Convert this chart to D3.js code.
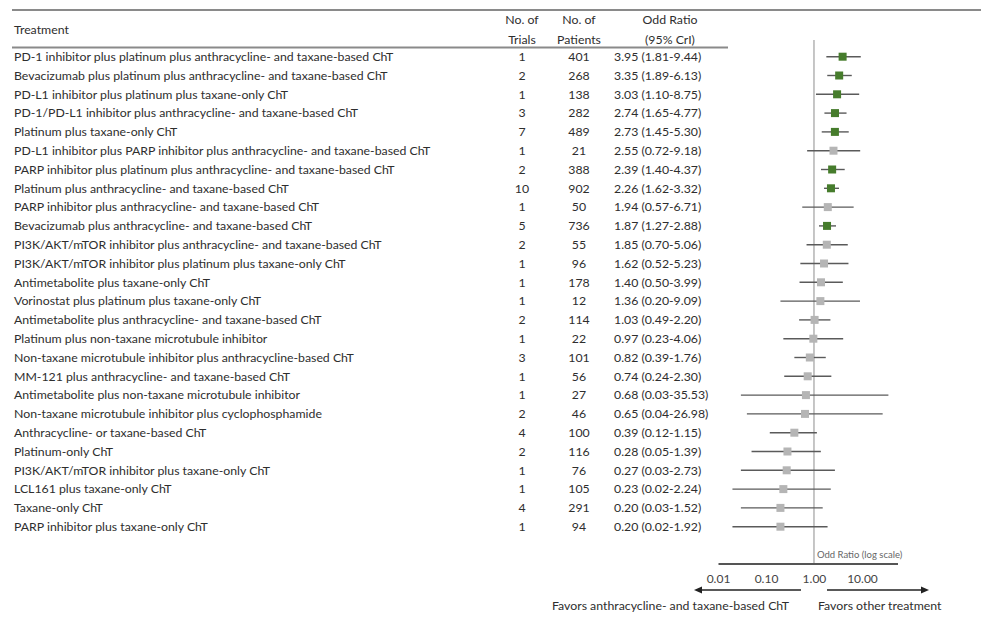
<!DOCTYPE html>
<html>
<head>
<meta charset="utf-8">
<script src="https://cdn.jsdelivr.net/npm/d3@7"></script>
<style>
  html, body { margin: 0; padding: 0; background: #fff; }
  svg { display: block; font-family: Lato, "Open Sans", sans-serif; }
</style>
</head>
<body>
<svg id="chart" width="981" height="617"></svg>
<script>
// Network meta-analysis results: odds ratio versus anthracycline- and taxane-based ChT
const treatments = [
  "PD-1 inhibitor plus platinum plus anthracycline- and taxane-based ChT",
  "Bevacizumab plus platinum plus anthracycline- and taxane-based ChT",
  "PD-L1 inhibitor plus platinum plus taxane-only ChT",
  "PD-1/PD-L1 inhibitor plus anthracycline- and taxane-based ChT",
  "Platinum plus taxane-only ChT",
  "PD-L1 inhibitor plus PARP inhibitor plus anthracycline- and taxane-based ChT",
  "PARP inhibitor plus platinum plus anthracycline- and taxane-based ChT",
  "Platinum plus anthracycline- and taxane-based ChT",
  "PARP inhibitor plus anthracycline- and taxane-based ChT",
  "Bevacizumab plus anthracycline- and taxane-based ChT",
  "PI3K/AKT/mTOR inhibitor plus anthracycline- and taxane-based ChT",
  "PI3K/AKT/mTOR inhibitor plus platinum plus taxane-only ChT",
  "Antimetabolite plus taxane-only ChT",
  "Vorinostat plus platinum plus taxane-only ChT",
  "Antimetabolite plus anthracycline- and taxane-based ChT",
  "Platinum plus non-taxane microtubule inhibitor",
  "Non-taxane microtubule inhibitor plus anthracycline-based ChT",
  "MM-121 plus anthracycline- and taxane-based ChT",
  "Antimetabolite plus non-taxane microtubule inhibitor",
  "Non-taxane microtubule inhibitor plus cyclophosphamide",
  "Anthracycline- or taxane-based ChT",
  "Platinum-only ChT",
  "PI3K/AKT/mTOR inhibitor plus taxane-only ChT",
  "LCL161 plus taxane-only ChT",
  "Taxane-only ChT",
  "PARP inhibitor plus taxane-only ChT"
];
const trials   = [1, 2, 1, 3, 7, 1, 2, 10, 1, 5, 2, 1, 1, 1, 2, 1, 3, 1, 1, 2, 4, 2, 1, 1, 4, 1];
const patients = [401, 268, 138, 282, 489, 21, 388, 902, 50, 736, 55, 96, 178, 12, 114, 22, 101, 56, 27, 46, 100, 116, 76, 105, 291, 94];
const oddsRatio = [3.95, 3.35, 3.03, 2.74, 2.73, 2.55, 2.39, 2.26, 1.94, 1.87, 1.85, 1.62, 1.40, 1.36, 1.03, 0.97, 0.82, 0.74, 0.68, 0.65, 0.39, 0.28, 0.27, 0.23, 0.20, 0.20];
const ciLower  = [1.81, 1.89, 1.10, 1.65, 1.45, 0.72, 1.40, 1.62, 0.57, 1.27, 0.70, 0.52, 0.50, 0.20, 0.49, 0.23, 0.39, 0.24, 0.03, 0.04, 0.12, 0.05, 0.03, 0.02, 0.03, 0.02];
const ciUpper  = [9.44, 6.13, 8.75, 4.77, 5.30, 9.18, 4.37, 3.32, 6.71, 2.88, 5.06, 5.23, 3.99, 9.09, 2.20, 4.06, 1.76, 2.30, 35.53, 26.98, 1.15, 1.39, 2.73, 2.24, 1.52, 1.92];
const axisTicks = [0.01, 0.1, 1, 10];

const rows = treatments.map((name, i) => ({
  name, trials: trials[i], patients: patients[i],
  or: oddsRatio[i], lo: ciLower[i], hi: ciUpper[i]
}));

const svg = d3.select("#chart");
const textColor = "#2e2e2e";
const green = "#467c2c";
const grey = "#b5b5b5";
const fontSize = 12.3;

// Row layout
const y = d3.scaleBand()
  .domain(d3.range(rows.length))
  .range([47.3, 536.1])
  .paddingInner(0).paddingOuter(0);
const yc = i => y(i) + y.bandwidth() / 2;

// Odds ratio on a log scale
const x = d3.scaleLog().domain([0.01, 55]).range([718, 897.5]);

// Column positions
const colName = 14, colTrials = 522, colPatients = 579, colOR = 614, colORHead = 670;

// Header rules
svg.append("line").attr("x1", 12).attr("x2", 981).attr("y1", 10).attr("y2", 10)
  .attr("stroke", "#8a8a8a").attr("stroke-width", 2);
svg.append("line").attr("x1", 12).attr("x2", 728).attr("y1", 47.5).attr("y2", 47.5)
  .attr("stroke", "#8a8a8a").attr("stroke-width", 2);

// Header text
const head = svg.append("g").attr("fill", textColor).attr("font-size", fontSize);
head.append("text").attr("x", colName).attr("y", 33.5).text("Treatment");
[[colTrials, "No. of", "Trials"], [colPatients, "No. of", "Patients"], [colORHead, "Odd Ratio", "(95% CrI)"]]
  .forEach(([cx, a, b]) => {
    head.append("text").attr("x", cx).attr("y", 24).attr("text-anchor", "middle").text(a);
    head.append("text").attr("x", cx).attr("y", 43.5).attr("text-anchor", "middle").text(b);
  });

// Table body
const fmt = d3.format(".2f");
const body = svg.append("g").attr("fill", textColor).attr("font-size", fontSize);
const row = body.selectAll("g.row").data(rows).join("g").attr("class", "row")
  .attr("transform", (d, i) => `translate(0,${yc(i) + 4.3})`);
row.append("text").attr("x", colName).text(d => d.name);
row.append("text").attr("x", colTrials).attr("text-anchor", "middle").text(d => d.trials);
row.append("text").attr("x", colPatients).attr("text-anchor", "middle").text(d => d.patients);
row.append("text").attr("x", colOR).text(d => `${fmt(d.or)} (${fmt(d.lo)}-${fmt(d.hi)})`);

// Line of no effect
svg.append("line")
  .attr("x1", x(1)).attr("x2", x(1)).attr("y1", 40).attr("y2", 563)
  .attr("stroke", "#a0a0a0").attr("stroke-width", 1.2);

// Credible intervals and point estimates
const forest = svg.append("g");
forest.selectAll("line.ci").data(rows).join("line").attr("class", "ci")
  .attr("x1", d => x(d.lo)).attr("x2", d => x(d.hi))
  .attr("y1", (d, i) => yc(i)).attr("y2", (d, i) => yc(i))
  .attr("stroke", "#5a5a5a").attr("stroke-width", 1.4);
const sq = 8;
forest.selectAll("rect.pt").data(rows).join("rect").attr("class", "pt")
  .attr("x", d => x(d.or) - sq / 2).attr("y", (d, i) => yc(i) - sq / 2)
  .attr("width", sq).attr("height", sq)
  .attr("fill", d => d.lo > 1 ? green : grey);

// Axis
const axis = d3.axisBottom(x).tickValues(axisTicks).tickFormat(fmt)
  .tickSize(0).tickSizeOuter(0).tickPadding(11);
const ax = svg.append("g").attr("transform", "translate(0,563.5)").call(axis);
ax.select(".domain").attr("stroke", "#555").attr("stroke-width", 2);
ax.selectAll(".tick text").attr("fill", "#444").attr("font-size", 12)
  .attr("font-family", "Lato, 'Open Sans', sans-serif");

svg.append("text").attr("x", x(1) + 3).attr("y", 557.5)
  .attr("font-size", 9.5).attr("fill", "#666").text("Odd Ratio (log scale)");

// Direction arrows
const arrowY = 590;
const arrows = svg.append("g").attr("stroke", "#222").attr("fill", "#222");
arrows.append("line").attr("x1", x(1) - 13).attr("x2", 700).attr("y1", arrowY).attr("y2", arrowY).attr("stroke-width", 1.3);
arrows.append("path").attr("d", `M694,${arrowY} l8,-3.5 v7 z`).attr("stroke", "none");
arrows.append("line").attr("x1", x(1) + 13).attr("x2", 922).attr("y1", arrowY).attr("y2", arrowY).attr("stroke-width", 1.3);
arrows.append("path").attr("d", `M929,${arrowY} l-8,-3.5 v7 z`).attr("stroke", "none");

const foot = svg.append("g").attr("fill", textColor).attr("font-size", fontSize);
foot.append("text").attr("x", 552).attr("y", 609.5).text("Favors anthracycline- and taxane-based ChT");
foot.append("text").attr("x", 818).attr("y", 609.5).text("Favors other treatment");
</script>
</body>
</html>
